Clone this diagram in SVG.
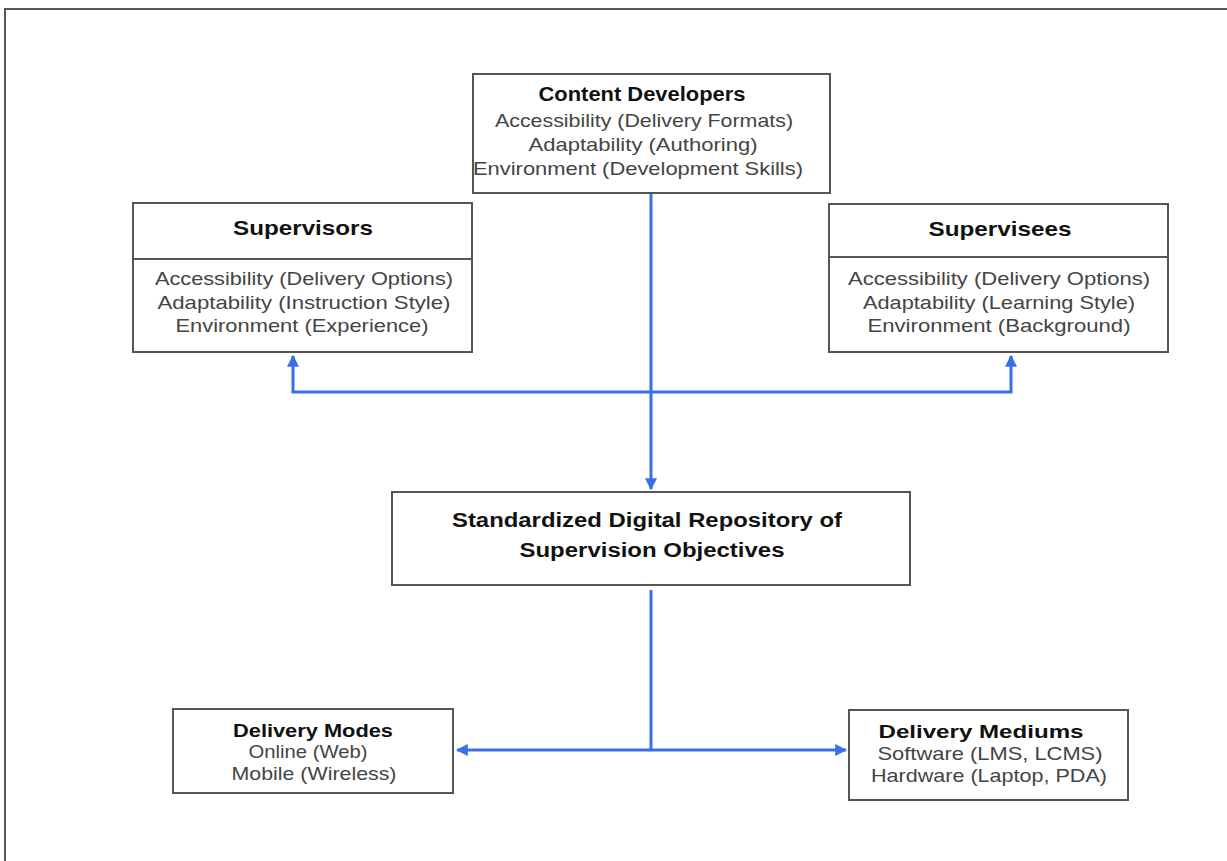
<svg xmlns="http://www.w3.org/2000/svg" width="1227" height="861" viewBox="0 0 1227 861">
  <style>
    .box { fill: #ffffff; stroke: #555555; stroke-width: 2; }
    .head { font-family: "Liberation Sans", Arial, sans-serif; font-weight: bold; fill: #111111; text-anchor: middle; }
    .body { font-family: "Liberation Sans", Arial, sans-serif; fill: #444444; text-anchor: middle; font-size: 19px; }
    .wire { fill: none; stroke: #3b6fe6; stroke-width: 3; }
  </style>
  <defs>
    <marker id="arrow" viewBox="0 0 10 10" refX="9" refY="5" markerWidth="4" markerHeight="4" orient="auto" markerUnits="strokeWidth">
      <path d="M0,0 L10,5 L0,10 z" fill="#3b6fe6"/>
    </marker>
  </defs>

  <rect width="1227" height="861" fill="#ffffff"/>
  <!-- outer frame -->
  <path d="M5,861 V9 H1227" fill="none" stroke="#555555" stroke-width="2"/>

  <g id="connectors">
    <line class="wire" x1="651" y1="193" x2="651" y2="489" marker-end="url(#arrow)"/>
    <path class="wire" d="M651,392 H293 V356" marker-end="url(#arrow)"/>
    <path class="wire" d="M651,392 H1011 V356" marker-end="url(#arrow)"/>
    <line class="wire" x1="651" y1="590" x2="651" y2="750"/>
    <line class="wire" x1="651" y1="750" x2="457" y2="750" marker-end="url(#arrow)"/>
    <line class="wire" x1="651" y1="750" x2="846" y2="750" marker-end="url(#arrow)"/>
  </g>

  <g id="content-developers">
    <rect class="box" x="473" y="74" width="357" height="119"/>
    <text class="head" x="642" y="101" font-size="20" textLength="207" lengthAdjust="spacingAndGlyphs">Content Developers</text>
    <text class="body" x="644" y="127" font-size="20" textLength="298" lengthAdjust="spacingAndGlyphs">Accessibility (Delivery Formats)</text>
    <text class="body" x="643" y="151" font-size="20" textLength="229" lengthAdjust="spacingAndGlyphs">Adaptability (Authoring)</text>
    <text class="body" x="638" y="175" font-size="20" textLength="330" lengthAdjust="spacingAndGlyphs">Environment (Development Skills)</text>
  </g>

  <g id="supervisors">
    <rect class="box" x="133" y="203" width="339" height="149"/>
    <line x1="133" y1="259" x2="472" y2="259" stroke="#555555" stroke-width="2"/>
    <text class="head" x="303" y="235" font-size="21" textLength="140" lengthAdjust="spacingAndGlyphs">Supervisors</text>
    <text class="body" x="304" y="285" textLength="298" lengthAdjust="spacingAndGlyphs">Accessibility (Delivery Options)</text>
    <text class="body" x="304" y="309" textLength="293" lengthAdjust="spacingAndGlyphs">Adaptability (Instruction Style)</text>
    <text class="body" x="302" y="332" textLength="253" lengthAdjust="spacingAndGlyphs">Environment (Experience)</text>
  </g>

  <g id="supervisees">
    <rect class="box" x="829" y="204" width="339" height="148"/>
    <line x1="829" y1="257" x2="1168" y2="257" stroke="#555555" stroke-width="2"/>
    <text class="head" x="1000" y="236" font-size="21" textLength="143" lengthAdjust="spacingAndGlyphs">Supervisees</text>
    <text class="body" x="999" y="285" textLength="302" lengthAdjust="spacingAndGlyphs">Accessibility (Delivery Options)</text>
    <text class="body" x="999" y="309" textLength="272" lengthAdjust="spacingAndGlyphs">Adaptability (Learning Style)</text>
    <text class="body" x="999" y="332" textLength="263" lengthAdjust="spacingAndGlyphs">Environment (Background)</text>
  </g>

  <g id="repository">
    <rect class="box" x="392" y="492" width="518" height="93"/>
    <text class="head" x="647" y="527" font-size="20" textLength="390" lengthAdjust="spacingAndGlyphs">Standardized Digital Repository of</text>
    <text class="head" x="652" y="557" font-size="20" textLength="265" lengthAdjust="spacingAndGlyphs">Supervision Objectives</text>
  </g>

  <g id="delivery-modes">
    <rect class="box" x="173" y="709" width="280" height="84"/>
    <text class="head" x="313" y="737" font-size="19" textLength="160" lengthAdjust="spacingAndGlyphs">Delivery Modes</text>
    <text class="body" x="308" y="758" textLength="119" lengthAdjust="spacingAndGlyphs">Online (Web)</text>
    <text class="body" x="314" y="780" textLength="165" lengthAdjust="spacingAndGlyphs">Mobile (Wireless)</text>
  </g>

  <g id="delivery-mediums">
    <rect class="box" x="849" y="710" width="279" height="90"/>
    <text class="head" x="981" y="738" font-size="19" textLength="205" lengthAdjust="spacingAndGlyphs">Delivery Mediums</text>
    <text class="body" x="990" y="760" textLength="225" lengthAdjust="spacingAndGlyphs">Software (LMS, LCMS)</text>
    <text class="body" x="989" y="782" textLength="236" lengthAdjust="spacingAndGlyphs">Hardware (Laptop, PDA)</text>
  </g>
</svg>
